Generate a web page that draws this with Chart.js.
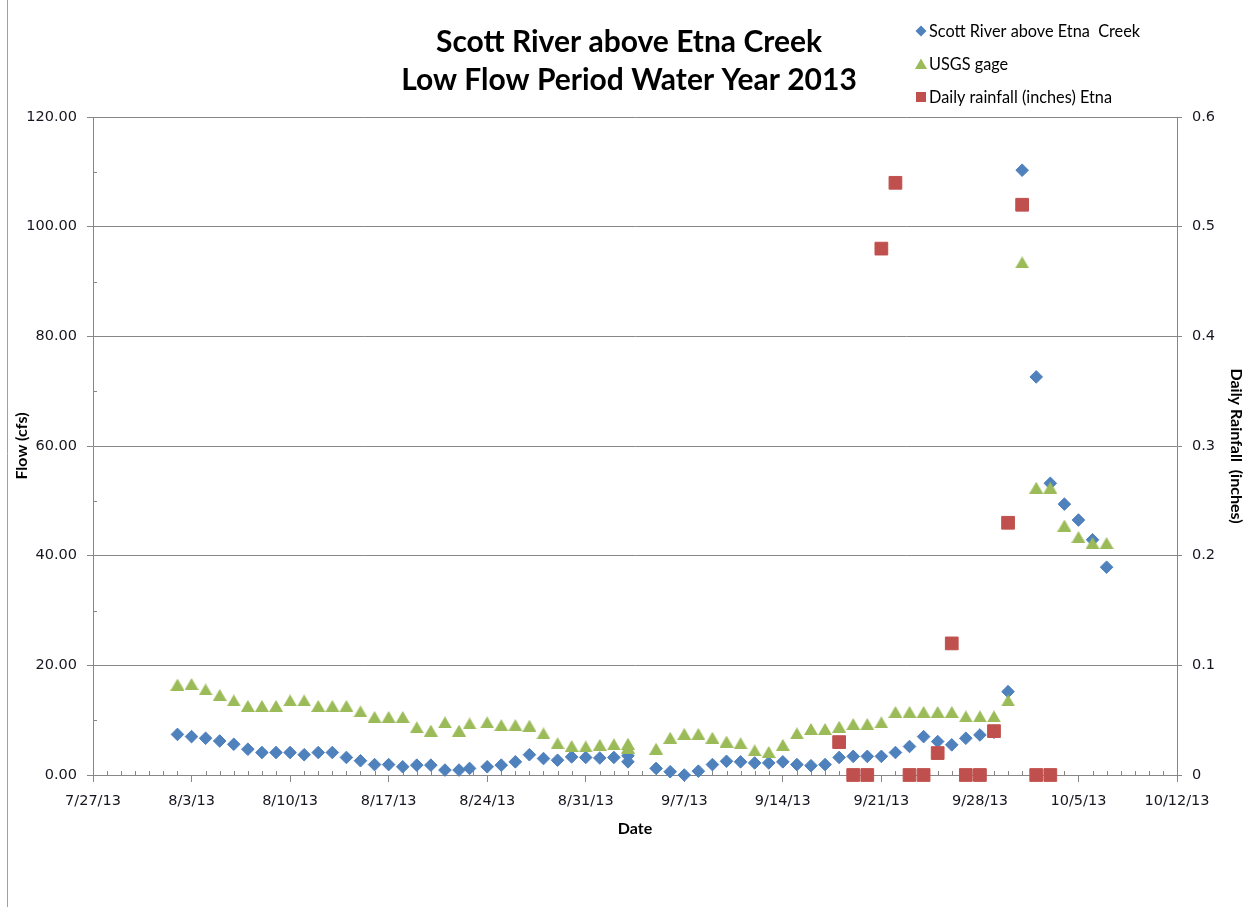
<!DOCTYPE html>
<html>
<head>
<meta charset="utf-8">
<title>Scott River above Etna Creek – Low Flow Period Water Year 2013</title>
<script src="https://cdn.jsdelivr.net/npm/chart.js@4.4.0/dist/chart.umd.min.js"></script>
<style>
  html, body { margin: 0; padding: 0; background: #ffffff; }
  #wrap { position: relative; width: 1251px; height: 907px; }
</style>
</head>
<body>
<div id="wrap"><canvas id="chart" width="1251" height="907"></canvas></div>
<script>
// ---- data -------------------------------------------------------------
// Sampling dates (2013) shared by both flow series
const flowDates = [
  '8/2', '8/3', '8/4', '8/5', '8/6', '8/7', '8/8', '8/9', '8/10', '8/11',
  '8/12', '8/13', '8/14', '8/15', '8/16', '8/17', '8/18', '8/19', '8/20', '8/21',
  '8/22', '8/22 18:00', '8/24', '8/25', '8/26', '8/27', '8/28', '8/29', '8/30', '8/31',
  '9/1', '9/2', '9/3', '9/3', '9/5', '9/6', '9/7', '9/8', '9/9', '9/10',
  '9/11', '9/12', '9/13', '9/14', '9/15', '9/16', '9/17', '9/18', '9/19', '9/20',
  '9/21', '9/22', '9/23', '9/24', '9/25', '9/26', '9/27', '9/28', '9/29', '9/30',
  '10/1', '10/2', '10/3', '10/4', '10/5', '10/6', '10/7'
];

// Flow (cfs), Scott River above Etna Creek
const scottFlow = [
  7.4, 7.0, 6.7, 6.2, 5.6, 4.7, 4.1, 4.1, 4.1, 3.7,
  4.1, 4.1, 3.2, 2.6, 1.9, 1.9, 1.5, 1.8, 1.8, 0.9,
  0.9, 1.2, 1.5, 1.8, 2.4, 3.7, 3.0, 2.7, 3.3, 3.2,
  3.1, 3.2, 3.5, 2.4, 1.2, 0.6, 0.0, 0.7, 1.9, 2.5,
  2.4, 2.2, 2.2, 2.4, 1.9, 1.7, 1.9, 3.2, 3.4, 3.4,
  3.4, 4.1, 5.2, 7.0, 6.1, 5.5, 6.7, 7.3, 7.8, 15.2,
  110.3, 72.6, 53.2, 49.4, 46.5, 42.9, 37.9
];

// Flow (cfs), USGS gage
const usgsFlow = [
  16.5, 16.6, 15.6, 14.6, 13.6, 12.6, 12.6, 12.6, 13.6, 13.6,
  12.6, 12.6, 12.6, 11.6, 10.6, 10.6, 10.6, 8.7, 8.1, 9.6,
  8.1, 9.4, 9.6, 9.1, 9.1, 9.0, 7.6, 5.8, 5.3, 5.2,
  5.5, 5.6, 5.7, 5.0, 4.8, 6.8, 7.5, 7.5, 6.8, 6.1,
  5.8, 4.5, 4.2, 5.5, 7.6, 8.4, 8.4, 8.8, 9.3, 9.3,
  9.6, 11.5, 11.5, 11.5, 11.5, 11.5, 10.7, 10.7, 10.7, 13.6,
  93.5, 52.4, 52.4, 45.5, 43.4, 42.3, 42.3
];

// Daily rainfall (inches) at Etna
const rainDates = [
  '9/18', '9/19', '9/20', '9/21', '9/22', '9/23', '9/24', '9/25',
  '9/26', '9/27', '9/28', '9/29', '9/30', '10/1', '10/2', '10/3'
];
const rainInches = [
  0.03, 0, 0, 0.48, 0.54, 0, 0, 0.02,
  0.12, 0, 0, 0.04, 0.23, 0.52, 0, 0
];

// Date axis labels (one per week)
const xTickLabels = [
  '7/27/13', '8/3/13', '8/10/13', '8/17/13', '8/24/13', '8/31/13',
  '9/7/13', '9/14/13', '9/21/13', '9/28/13', '10/5/13', '10/12/13'
];

const seriesNames = ['Scott River above Etna  Creek', 'USGS gage', 'Daily rainfall (inches) Etna'];

// ---- helpers ------------------------------------------------------------
const BLUE = '#4F81BD', GREEN = '#9BBB59', RED = '#C0504D';
const AXIS = '#878787', TEXT = '#161620';

// days elapsed since the first axis label; accepts 'M/D', 'M/D/YY' or 'M/D HH:MM'
const base = Date.UTC(2013, 6, 27);
function dayOf(s) {
  const [md, hm] = s.split(' ');
  const [m, d] = md.split('/').map(Number);
  const h = hm ? Number(hm.split(':')[0]) : 0;
  return (Date.UTC(2013, m - 1, d, h) - base) / 864e5;
}
const xMin = dayOf(xTickLabels[0]);
const xMax = dayOf(xTickLabels[xTickLabels.length - 1]);

function triangleMarker(w, h, color) {
  const c = document.createElement('canvas');
  c.width = w; c.height = h;
  const g = c.getContext('2d');
  g.fillStyle = color;
  g.beginPath();
  g.moveTo(w / 2, 0);
  g.lineTo(w, h);
  g.lineTo(0, h);
  g.closePath();
  g.fill();
  return c;
}
const triangle = triangleMarker(14, 12, GREEN);

// background, outer frame line and minor tick marks
const frame = {
  id: 'frame',
  beforeDraw(chart) {
    const ctx = chart.ctx;
    ctx.save();
    ctx.fillStyle = '#ffffff';
    ctx.fillRect(0, 0, chart.width, chart.height);
    ctx.strokeStyle = '#a0a0a0';
    ctx.lineWidth = 1;
    ctx.beginPath();
    ctx.moveTo(7.5, 0);
    ctx.lineTo(7.5, chart.height);
    ctx.stroke();
    ctx.restore();
  },
  beforeDatasetsDraw(chart) {
    const ctx = chart.ctx, x = chart.scales.x, y = chart.scales.y;
    const area = chart.chartArea;
    ctx.save();
    ctx.strokeStyle = AXIS;
    ctx.lineWidth = 1;
    ctx.beginPath();
    for (let d = Math.ceil(xMin); d <= xMax; d++) {
      if ((d - xMin) % 7 === 0) continue;
      const px = Math.round(x.getPixelForValue(d)) + 0.5;
      ctx.moveTo(px, area.bottom);
      ctx.lineTo(px, area.bottom - 4);
    }
    for (let v = 10; v < 120; v += 20) {
      const py = Math.round(y.getPixelForValue(v)) + 0.5;
      ctx.moveTo(area.left, py);
      ctx.lineTo(area.left + 4, py);
    }
    ctx.stroke();
    ctx.restore();
  }
};

// stacked legend in the upper right corner
const sideLegend = {
  id: 'sideLegend',
  afterDraw(chart) {
    const ctx = chart.ctx;
    const x0 = 921, y0 = 31, step = 33;
    ctx.save();
    ctx.font = '16.3px Lato, "Open Sans", sans-serif';
    ctx.textBaseline = 'middle';
    ctx.textAlign = 'left';
    chart.data.datasets.forEach((ds, i) => {
      const cy = y0 + i * step;
      ctx.fillStyle = ds.backgroundColor;
      ctx.beginPath();
      if (ds.pointStyle === 'rectRot') {
        ctx.moveTo(x0, cy - 5.5); ctx.lineTo(x0 + 5.5, cy);
        ctx.lineTo(x0, cy + 5.5); ctx.lineTo(x0 - 5.5, cy);
      } else if (ds.pointStyle === 'rect') {
        ctx.rect(x0 - 5, cy - 5, 10, 10);
      } else {
        ctx.moveTo(x0, cy - 5.5); ctx.lineTo(x0 + 6, cy + 5);
        ctx.lineTo(x0 - 6, cy + 5);
      }
      ctx.closePath();
      ctx.fill();
      ctx.fillStyle = '#000000';
      ctx.fillText(ds.label, x0 + 8, cy + 1);
    });
    ctx.restore();
  }
};

const tickFont = { family: '"DejaVu Sans", Verdana, sans-serif', size: 14.5 };
const titleFont = { family: 'Lato, "Open Sans", sans-serif', size: 16, weight: 'bold' };

new Chart(document.getElementById('chart'), {
  type: 'scatter',
  data: {
    datasets: [
      {
        label: seriesNames[0],
        data: flowDates.map((d, i) => ({ x: dayOf(d), y: scottFlow[i] })),
        yAxisID: 'y',
        pointStyle: 'rectRot',
        pointRadius: 6.3,
        pointHoverRadius: 6.3,
        backgroundColor: BLUE,
        borderColor: BLUE,
        borderWidth: 1,
        order: 3,
        clip: false
      },
      {
        label: seriesNames[1],
        data: flowDates.map((d, i) => ({ x: dayOf(d), y: usgsFlow[i] })),
        yAxisID: 'y',
        pointStyle: triangle,
        pointRadius: 7,
        backgroundColor: GREEN,
        borderColor: GREEN,
        order: 2,
        clip: false
      },
      {
        label: seriesNames[2],
        data: rainDates.map((d, i) => ({ x: dayOf(d), y: rainInches[i] })),
        yAxisID: 'y2',
        pointStyle: 'rect',
        pointRadius: 9,
        pointHoverRadius: 9,
        backgroundColor: RED,
        borderColor: RED,
        borderWidth: 1,
        order: 1,
        clip: false
      }
    ]
  },
  options: {
    responsive: false,
    animation: false,
    layout: { padding: { left: 7, right: 0, top: 0, bottom: 0 } },
    plugins: {
      legend: { display: false },
      tooltip: { enabled: false },
      title: {
        display: true,
        text: ['Scott River above Etna Creek', 'Low Flow Period Water Year 2013'],
        color: '#000000',
        font: { family: 'Lato, "Open Sans", sans-serif', size: 30, weight: 'bold', lineHeight: 1.267 },
        padding: { top: 23, bottom: 18 }
      }
    },
    scales: {
      x: {
        type: 'linear',
        position: 'bottom',
        min: xMin,
        max: xMax,
        afterFit: s => { s.height = 132; },
        ticks: {
          stepSize: 7,
          autoSkip: false,
          maxRotation: 0,
          padding: 11,
          color: TEXT,
          font: tickFont,
          callback: (v, i) => xTickLabels[i]
        },
        grid: { drawOnChartArea: false, drawTicks: true, tickLength: 7, color: AXIS },
        border: { display: true, color: AXIS, width: 1 },
        title: { display: true, text: 'Date', color: '#000000', font: titleFont, padding: { top: 0, bottom: 69 } }
      },
      y: {
        type: 'linear',
        position: 'left',
        min: 0,
        max: 120,
        afterFit: s => { s.width = 86; },
        ticks: {
          stepSize: 20,
          padding: 10,
          color: TEXT,
          font: tickFont,
          callback: v => Number(v).toFixed(2)
        },
        grid: { drawOnChartArea: true, drawTicks: true, tickLength: 6, color: AXIS },
        border: { display: true, color: AXIS, width: 1 },
        title: { display: true, text: 'Flow (cfs)', color: '#000000', font: titleFont, padding: { top: 5, bottom: 0 } }
      },
      y2: {
        type: 'linear',
        position: 'right',
        min: 0,
        max: 0.6,
        afterFit: s => { s.width = 74; },
        ticks: {
          stepSize: 0.1,
          padding: 10,
          color: TEXT,
          font: tickFont,
          callback: v => String(Number(Number(v).toFixed(1)))
        },
        grid: { drawOnChartArea: false, drawTicks: true, tickLength: 5, color: AXIS },
        border: { display: true, color: AXIS, width: 1 },
        title: { display: true, text: 'Daily Rainfall  (inches)', color: '#000000', font: titleFont, padding: { top: 5, bottom: 0 } }
      }
    }
  },
  plugins: [frame, sideLegend]
});
</script>
</body>
</html>
